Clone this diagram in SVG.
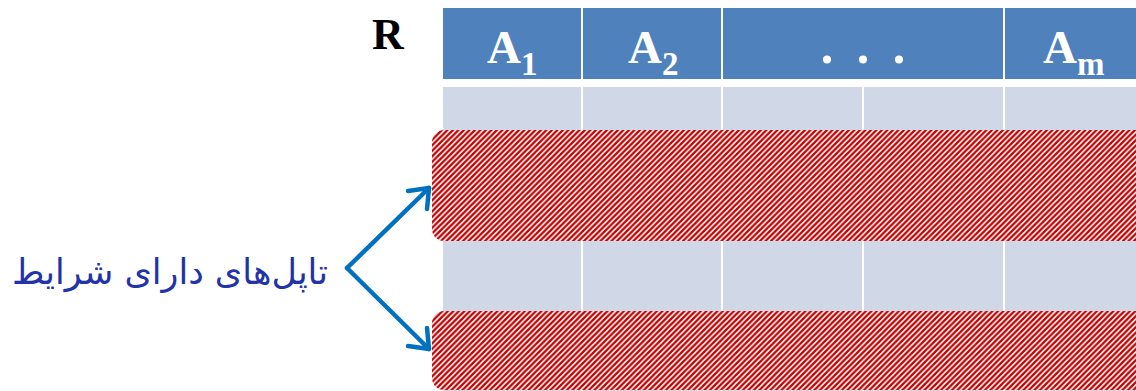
<svg xmlns="http://www.w3.org/2000/svg" width="1136" height="391" viewBox="0 0 1136 391">
<defs>
<style>
.hdr{fill:#4F81BD}
.row{fill:#D0D8E8}
.ht{fill:#FFFFFF;font-family:"Liberation Serif",serif;font-weight:bold;font-size:47px}
.sub{font-size:33px}
.arr{stroke:#0070C0;stroke-width:4.5;fill:none;stroke-linecap:round;stroke-linejoin:round}
</style>
<pattern id="hatch" patternUnits="userSpaceOnUse" width="5.5" height="5.5">
<rect width="5.5" height="5.5" fill="#FFFFFF"/>
<path d="M-1.375,1.375 L1.375,-1.375 M0,5.5 L5.5,0 M4.125,6.875 L6.875,4.125" stroke="#C00000" stroke-width="2.3"/>
</pattern>
</defs>
<rect width="1136" height="391" fill="#FFFFFF"/>
<g id="table">
<rect class="hdr" x="443" y="8" width="138" height="71"/>
<rect class="hdr" x="583" y="8" width="138" height="71"/>
<rect class="hdr" x="723" y="8" width="280" height="71"/>
<rect class="hdr" x="1005" y="8" width="131" height="71"/>
<rect class="row" x="443" y="87" width="138" height="304"/>
<rect class="row" x="583" y="87" width="138" height="304"/>
<rect class="row" x="723" y="87" width="139" height="304"/>
<rect class="row" x="864" y="87" width="139" height="304"/>
<rect class="row" x="1005" y="87" width="131" height="304"/>
<text x="372" y="49" font-family="Liberation Serif, serif" font-weight="bold" font-size="44" fill="#000000">R</text>
<text class="ht" x="487" y="63">A<tspan class="sub" dy="12">1</tspan></text>
<text class="ht" x="628" y="63">A<tspan class="sub" dy="12">2</tspan></text>
<circle cx="827" cy="59.5" r="4" fill="#FFFFFF"/>
<circle cx="863" cy="59.5" r="4" fill="#FFFFFF"/>
<circle cx="899" cy="59.5" r="4" fill="#FFFFFF"/>
<text class="ht" x="1043" y="63">A<tspan class="sub" dy="12">m</tspan></text>
</g>
<g id="tuple1">
<rect x="432" y="130" width="720" height="111" rx="12" ry="12" fill="url(#hatch)"/>
</g>
<g id="tuple2">
<rect x="432" y="311" width="720" height="79" rx="12" ry="12" fill="url(#hatch)"/>
</g>
<g id="label">
<text x="170" y="284" text-anchor="middle" font-family="DejaVu Sans, sans-serif" font-size="35" fill="#2233A8" direction="rtl">تاپل‌های دارای شرایط</text>
</g>
<g id="connectors">
<path class="arr" d="M347,268 L429,188"/>
<path class="arr" d="M408,191 L429,188 L427,209"/>
<path class="arr" d="M347,268 L429,349"/>
<path class="arr" d="M408,346 L429,349 L427,328"/>
</g>
</svg>
